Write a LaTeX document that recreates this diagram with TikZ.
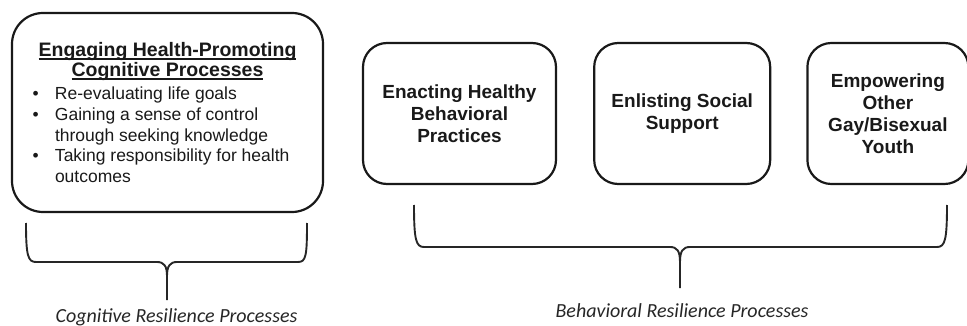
\documentclass[tikz,border=0pt]{standalone}
\usepackage{fontspec}
\setmainfont{Liberation Sans}
\newfontfamily\capfont{Carlito}
\usetikzlibrary{positioning}
% underline that cuts through the descenders
\newcommand{\ulbar}[1]{\leavevmode\setbox0=\hbox{#1}\rlap{\rule[-3.2pt]{\wd0}{1.6pt}}\box0}

\begin{document}
\begin{tikzpicture}[x=1pt,y=-1pt,
  procbox/.style={draw=black!90, line width=2.2pt, rounded corners=24pt, inner sep=0pt,
    align=center, text=black!90, font=\bfseries\fontsize{19}{22}\selectfont},
  bracepath/.style={draw=black!85, line width=1.9pt},
  grouplabel/.style={anchor=base, text=black!85, font=\capfont\itshape\fontsize{20}{22}\selectfont}]
\useasboundingbox (0,0) rectangle (967,326);

% cognitive box, title and list
\node[procbox, rounded corners=31pt, minimum width=311pt, minimum height=199pt] (cog) at (167.5,112.5)
  {\parbox{270pt}{\centering\fontsize{19.5}{20}\selectfont
    \ulbar{Engaging Health-Promoting}\\\ulbar{Cognitive Processes}\par\vspace{2.5pt}
    \raggedright\mdseries\fontsize{17.5}{20.7}\selectfont
    \hangindent=22.5pt\hangafter=1\makebox[22.5pt][l]{•}Re-evaluating life goals\par
    \hangindent=22.5pt\hangafter=1\makebox[22.5pt][l]{•}Gaining a sense of control through seeking knowledge\par
    \hangindent=22.5pt\hangafter=1\makebox[22.5pt][l]{•}Taking responsibility for health outcomes\par}};

% behavioral boxes
\node[procbox, minimum width=193pt, minimum height=141pt] (enact) at (459.5,113.5)
  {Enacting Healthy\\Behavioral\\Practices};
\node[procbox, minimum width=176pt, minimum height=141pt, right=36pt of enact] (enlist)
  {Enlisting Social\\Support};
\node[procbox, minimum width=161pt, minimum height=141pt, right=35pt of enlist] (empower)
  {Empowering\\Other\\Gay/Bisexual\\Youth};

% brace under the cognitive box
\draw[bracepath] (26,223) .. controls (26,256) and (28,262) .. (36,262) -- (157,262)
  .. controls (164,262) and (167,266) .. (167,276) -- (167,300);
\draw[bracepath] (167,276) .. controls (167,266) and (170,262) .. (177,262) -- (298,262)
  .. controls (306,262) and (307,256) .. (307,223);

% brace under the behavioral boxes
\draw[bracepath] (414,205) .. controls (414,240) and (416,247) .. (424,247) -- (670,247)
  .. controls (677,247) and (680,251) .. (680,262) -- (680,288);
\draw[bracepath] (680,262) .. controls (680,251) and (683,247) .. (690,247) -- (937,247)
  .. controls (945,247) and (947,240) .. (947,205);

\node[grouplabel] (cogLabel) at (176.5,322) {Cognitive Resilience Processes};
\node[grouplabel] (behLabel) at (682,317) {Behavioral Resilience Processes};
\end{tikzpicture}
\end{document}
